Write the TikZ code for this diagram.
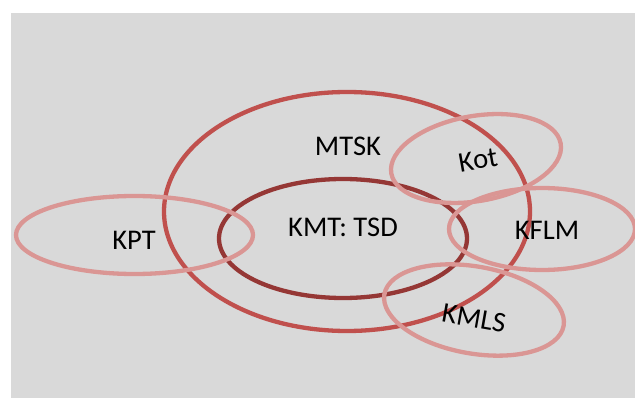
\documentclass[tikz,border=0pt]{standalone}
\usepackage{fontspec}
\setmainfont{Carlito}
\definecolor{bg}{HTML}{D9D9D9}
\definecolor{redring}{HTML}{C0504D}
\definecolor{darkring}{HTML}{953735}
\definecolor{pinkring}{HTML}{DA9694}
\tikzset{
  ring/.style={line width=4.3pt},
  lbl/.style={font=\fontsize{28.5}{34}\selectfont, inner sep=0pt, anchor=center}
}
\begin{document}
\begin{tikzpicture}[x=1pt,y=-1pt]
\useasboundingbox (0,0) rectangle (635,398);
\fill[bg] (11,13) rectangle (635,398);
% MTSK
\draw[ring, redring] (347,211.5) ellipse [x radius=183pt, y radius=119.5pt];
% KMT: TSD
\draw[ring, darkring] (343,238.5) ellipse [x radius=124pt, y radius=59.5pt];
% KPT
\draw[ring, pinkring] (134.5,235) ellipse [x radius=118.5pt, y radius=39pt];
% Kot
\draw[ring, pinkring, rotate around={10:(476,158.5)}] (476,158.5) ellipse [x radius=86pt, y radius=42.5pt];
% KFLM
\draw[ring, pinkring] (542,229) ellipse [x radius=93pt, y radius=41pt];
% KMLS
\draw[ring, pinkring, rotate around={-10:(474,310)}] (474,310) ellipse [x radius=91pt, y radius=43.5pt];
\node[lbl] (tmtsk) at (348,146) {MTSK};
\node[lbl] (tkmt) at (343,227) {KMT: TSD};
\node[lbl] (tkpt) at (134,240) {KPT};
\node[lbl, rotate=10] (tkot) at (478,160) {Kot};
\node[lbl] (tkflm) at (547,230) {KFLM};
\node[lbl, rotate=-10] (tkmls) at (474,318) {KMLS};
\end{tikzpicture}
\end{document}
